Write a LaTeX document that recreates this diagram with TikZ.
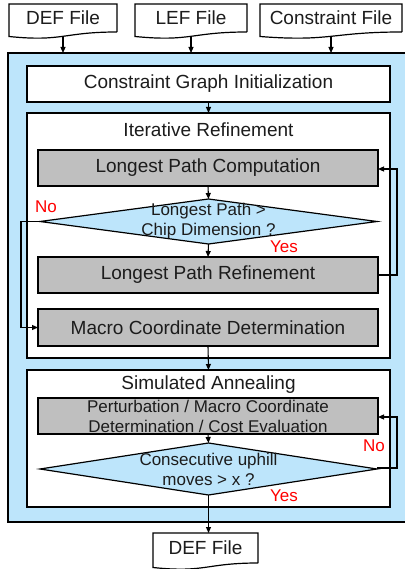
\documentclass[tikz,border=0pt]{standalone}
\usepackage{fontspec}
\setmainfont{Liberation Sans}
\usetikzlibrary{arrows.meta,calc}

\definecolor{panelblue}{RGB}{189,229,251}
\definecolor{boxgray}{RGB}{191,191,191}
\definecolor{inkgray}{RGB}{28,28,28}
\definecolor{flagred}{RGB}{255,0,0}

% document symbol: straight top and sides, wavy bottom edge
\newcommand\docoutline[1]{%
  \draw[line] (#1.south east) -- (#1.north east) -- (#1.north west)
    -- ([yshift=-4.5pt]#1.south west)
    .. controls ([yshift=-10pt]#1.south) and (#1.south) .. (#1.south east);}

% decision symbol drawn round a centre point
\newcommand\decisionshape[3]{%
  \draw[line, fill=panelblue] ($(#1)+(-#2,0)$) -- ($(#1)+(0,-#3)$)
    -- ($(#1)+(#2,0)$) -- ($(#1)+(0,#3)$) -- cycle;}

\begin{document}
\begin{tikzpicture}[x=1pt,y=-1pt,
  every node/.style={inner sep=0pt, outer sep=0pt, text=inkgray},
  line/.style={line width=1.2pt, draw=black},
  arr/.style={line width=1.1pt, draw=black, -{Triangle[length=6pt,width=5pt]}},
  bigtxt/.style={font=\fontsize{19}{22}\selectfont},
  smalltxt/.style={font=\fontsize{17}{20}\selectfont, align=center},
  whitebox/.style={line, fill=white, minimum width=363pt},
  graybox/.style={line, fill=boxgray, minimum width=340pt, minimum height=36pt},
  docbox/.style={bigtxt},
  decision/.style={smalltxt, minimum width=337pt},
  answer/.style={text=flagred, font=\fontsize{17}{20}\selectfont},
]
\useasboundingbox (0,0) rectangle (404,569);

% input files
\node[docbox, minimum width=108pt, minimum height=28pt] (def1) at (63,18) {DEF File};
\node[docbox, minimum width=112pt, minimum height=28pt] (lef) at (191,18) {LEF File};
\node[docbox, minimum width=142pt, minimum height=28pt] (cons) at (331,18) {Constraint File};
\docoutline{def1}
\docoutline{lef}
\docoutline{cons}
\coordinate (def1b) at ([yshift=-4.3pt]def1.south);
\coordinate (lefb) at ([yshift=-4.3pt]lef.south);
\coordinate (consb) at ([yshift=-4.3pt]cons.south);

% main panel
\node[line, fill=panelblue, minimum width=398pt, minimum height=469pt] (panel) at (207,287.5) {};

\node[whitebox, bigtxt, minimum height=36pt] (cgi) at (208.5,84) {Constraint Graph Initialization};

% iterative refinement stage
\node[whitebox, minimum height=245pt] (ir) at (208.5,235.5) {};
\node[bigtxt] (irtitle) at (208.5,130) {Iterative Refinement};
\node[graybox, bigtxt] (lpc) at (208,168) {Longest Path Computation};
\coordinate (d1c) at (208.5,221.5);
\decisionshape{d1c}{168.5}{22.5}
\node[decision, minimum height=45pt] (d1) at (d1c) {Longest Path >\\Chip Dimension ?};
\node[graybox, bigtxt] (lpr) at (208,275) {Longest Path Refinement};
\node[graybox, bigtxt, minimum height=37pt] (mcd) at (208,327.5) {Macro Coordinate Determination};

% simulated annealing stage
\node[whitebox, minimum height=137pt] (sa) at (208.5,438.5) {};
\node[bigtxt] (satitle) at (208.5,385) {Simulated Annealing};
\node[graybox, smalltxt] (pert) at (208,416) {Perturbation / Macro Coordinate\\Determination / Cost Evaluation};
\coordinate (d2c) at (208.5,469);
\decisionshape{d2c}{168.5}{26}
\node[decision, minimum height=52pt] (d2) at (d2c) {Consecutive uphill\\moves > x ?};

% output file
\node[docbox, minimum width=105pt, minimum height=30pt] (outdef) at (205.5,548) {DEF File};
\docoutline{outdef}

% connectors
\draw[arr] (def1b) -- (def1b |- panel.north);
\draw[arr] (lefb) -- (lefb |- panel.north);
\draw[arr] (consb) -- (consb |- panel.north);
\draw[arr] (cgi.south) -- (ir.north);
\draw[arr] (lpc.south) -- (d1.north);
\draw[arr] (d1.south) -- (lpr.north);
\draw[arr] (lpr.east) -- ([xshift=19pt]lpr.east) |- ([yshift=-1pt]lpc.east);
\draw[arr] (d1.west) -- ([xshift=-19pt]d1.west) |- (mcd.west);
\draw[arr] (mcd.south) -- (sa.north);
\draw[arr] (pert.south) -- (d2.north);
\draw[arr] ([yshift=1pt]d2.east) -- ([xshift=20pt,yshift=1pt]d2.east) |- ([yshift=-1pt]pert.east);
\draw[arr] (d2.south) -- (d2.south |- outdef.north);

% branch labels
\node[answer] (no1) at (46,207) {No};
\node[answer] (yes1) at (284,247) {Yes};
\node[answer] (no2) at (374,446) {No};
\node[answer] (yes2) at (284,496) {Yes};
\end{tikzpicture}
\end{document}
